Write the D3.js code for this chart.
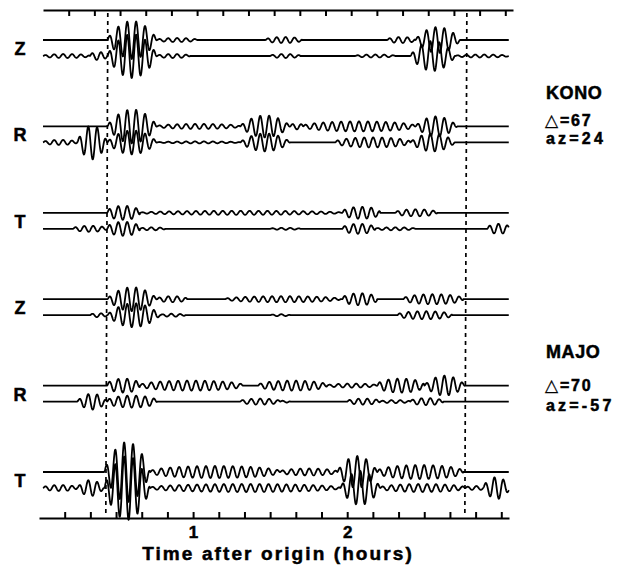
<!DOCTYPE html>
<html>
<head>
<meta charset="utf-8">
<script src="https://cdn.jsdelivr.net/npm/d3@7"></script>
<style>
  body { margin: 0; background: #fff; }
  text { font-family: "Liberation Sans", Arial, sans-serif; font-weight: bold; fill: #000; stroke: #000; stroke-width: 0.5; }
</style>
</head>
<body>
<script>
// rows, top to bottom
const components = ["Z", "R", "T", "Z", "R", "T"]
const stationNames = ["KONO", "MAJO"]
const distances = [67, 70]
const azimuths = [24, -57]

// group velocity window (hours after origin), dashed lines
const windowTimes = [0.44, 2.77]
const hourLabels = [1, 2]

// wave packets: [start h, end h, amplitude]
// upper trace of each pair (data, windowed)
const observed = [
  [[0.442, 0.766, 19], [0.766, 1.026, 2], [1.47, 1.708, 3], [2.26, 2.442, 3], [2.442, 2.734, 13]],
  [[0.442, 0.766, 17], [0.766, 1.305, 2.5], [1.305, 1.63, 11], [1.63, 1.714, 3], [1.714, 2.442, 5], [2.442, 2.714, 10]],
  [[0.442, 0.656, 7], [0.656, 1.968, 2], [1.968, 2.214, 6], [2.312, 2.584, 3.5]],
  [[0.442, 0.766, 12], [0.766, 0.961, 3], [1.208, 1.955, 3], [1.968, 2.195, 6], [2.364, 2.753, 5]],
  [[0.442, 0.656, 7], [0.656, 1.325, 5], [1.422, 1.87, 5], [1.87, 2.195, 2], [2.195, 2.5, 7], [2.5, 2.766, 10]],
  [[0.422, 0.721, 30], [0.721, 1.565, 6], [1.565, 1.935, 3.5], [1.935, 2.195, 16], [2.195, 2.753, 7]]
]
// lower trace of each pair (synthetic, full length)
const synthetic = [
  [[0.026, 0.33, 2], [0.33, 0.442, 4], [0.442, 0.766, 22], [0.766, 0.98, 2], [1.5, 1.695, 2], [2.052, 2.312, 1.5], [2.409, 2.701, 15], [2.701, 3.05, 1.5]],
  [[0.026, 0.247, 2.5], [0.247, 0.442, 17], [0.442, 0.766, 12], [0.766, 1.305, 1], [1.305, 1.63, 9], [1.922, 2.409, 5], [2.409, 2.701, 9]],
  [[0.221, 0.442, 3], [0.442, 0.656, 7], [0.656, 0.818, 1.5], [1.5, 1.695, 1], [1.968, 2.182, 5], [2.182, 2.442, 1.5], [2.909, 3.058, 5]],
  [[0.331, 0.442, 2], [0.442, 0.786, 12], [0.786, 0.948, 1.5], [1.5, 1.63, 1], [2.325, 2.682, 4]],
  [[0.247, 0.442, 8], [0.442, 0.766, 6], [1.305, 1.565, 3], [1.565, 1.63, 1], [2.0, 2.214, 3], [2.214, 2.409, 1.5], [2.409, 2.623, 3.5]],
  [[0.026, 0.247, 3], [0.247, 0.422, 8], [0.422, 0.721, 32], [0.721, 1.955, 4], [1.955, 2.214, 17], [2.214, 2.766, 4], [2.766, 2.909, 2], [2.883, 3.058, 11]]
]

const PERIOD = 0.058 // hours, ~3.5 min surface waves

const width = 628
const height = 567

const svg = d3.select("body").append("svg")
  .attr("width", width)
  .attr("height", height)

const x = d3.scaleLinear().domain([0, 3.05]).range([39, 509])
const row = d3.scalePoint().domain(d3.range(components.length)).range([48, 480])
const amp = d3.scaleLinear().domain([-30, 30]).range([30, -30])

const tSamples = d3.range(0.026, 3.05, 0.0015)

// big arrivals are spindle shaped, small wiggle trains are flatter
const traceValue = (packets, t) => {
  let v = 0
  for (const [t0, t1, a] of packets) {
    if (t < t0 || t > t1) continue
    const u = (t - t0) / (t1 - t0)
    const env = Math.pow(Math.sin(Math.PI * u), a >= 8 ? 0.8 : 0.4)
    v += a * env * Math.sin(2 * Math.PI * (t - t0) / PERIOD)
  }
  return v
}

// axes
const ticks = d3.range(1, 19).map(i => i / 6)

svg.append("g")
  .attr("transform", "translate(4,10)")
  .call(d3.axisBottom(x).tickValues(ticks).tickSize(6).tickSizeOuter(0).tickFormat(""))
  .call(g => g.selectAll("path, line").attr("stroke", "#000").attr("stroke-width", 2))

svg.append("g")
  .attr("transform", "translate(0,518)")
  .call(d3.axisBottom(x).tickValues(ticks).tickSize(-6).tickSizeOuter(0).tickPadding(8)
    .tickFormat(d => hourLabels.find(h => Math.abs(h - d) < 1e-6) || ""))
  .call(g => g.selectAll("path, line").attr("stroke", "#000").attr("stroke-width", 2))
  .call(g => g.selectAll("text")
    .attr("font-size", 17)
    .attr("font-family", "'Liberation Sans', Arial, sans-serif")
    .attr("font-weight", "bold"))

svg.append("text")
  .attr("x", 278)
  .attr("y", 560)
  .attr("text-anchor", "middle")
  .attr("font-size", 19)
  .attr("letter-spacing", 2.1)
  .text("Time after origin (hours)")

// dashed window lines
svg.append("g")
  .selectAll("line")
  .data(windowTimes)
  .join("line")
  .attr("x1", d => x(d) + 1)
  .attr("x2", d => x(d) - 1)
  .attr("y1", 13)
  .attr("y2", 516)
  .attr("stroke", "#000")
  .attr("stroke-width", 1.7)
  .attr("stroke-dasharray", "4,4")

// traces
const line = d3.line()
  .x(d => x(d[0]))
  .y(d => d[1])

const traces = []
components.forEach((c, i) => {
  traces.push({ base: row(i) - 8, packets: observed[i] })
  traces.push({ base: row(i) + 8, packets: synthetic[i] })
})

svg.append("g")
  .attr("fill", "none")
  .attr("stroke", "#000")
  .attr("stroke-width", 1.8)
  .attr("stroke-linejoin", "round")
  .selectAll("path")
  .data(traces)
  .join("path")
  .attr("d", d => line(tSamples.map(t => [t, d.base + amp(traceValue(d.packets, t))])))

// component labels
svg.append("g")
  .selectAll("text")
  .data(components)
  .join("text")
  .attr("x", 20)
  .attr("y", (d, i) => row(i) + 7)
  .attr("text-anchor", "middle")
  .attr("font-size", 18)
  .text(d => d)

// station info
const labelY = [[99, 126, 144], [358, 391, 411]]
stationNames.forEach((name, i) => {
  const g = svg.append("g")
  g.append("text").attr("x", 546).attr("y", labelY[i][0]).attr("font-size", 18).attr("letter-spacing", 0.6).text(name)
  const dl = g.append("text").attr("x", 545).attr("y", labelY[i][1]).attr("font-size", 16).attr("letter-spacing", 1.8)
  dl.append("tspan")
    .attr("font-family", "'DejaVu Sans', sans-serif")
    .attr("font-weight", "normal")
    .attr("font-size", 17)
    .attr("stroke-width", 0.3)
    .text("\u25B3")
  dl.append("tspan").text("=" + distances[i])
  g.append("text").attr("x", 546).attr("y", labelY[i][2]).attr("font-size", 16).attr("letter-spacing", 3.2).text("az=" + azimuths[i])
})
</script>
</body>
</html>
